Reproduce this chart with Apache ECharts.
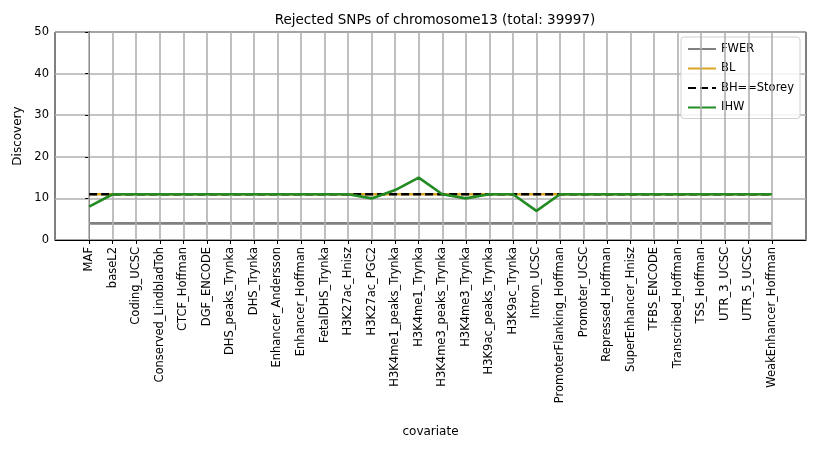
<!DOCTYPE html>
<html><head><meta charset="utf-8">
<script src="https://cdn.jsdelivr.net/npm/echarts@6/dist/echarts.min.js"></script>
<style>html,body{margin:0;padding:0;background:#fff}#c{width:814px;height:452px}</style>
</head><body><div id="c"></div>
<script>
const categories = ["MAF","baseL2","Coding_UCSC","Conserved_LindbladToh","CTCF_Hoffman","DGF_ENCODE","DHS_peaks_Trynka","DHS_Trynka","Enhancer_Andersson","Enhancer_Hoffman","FetalDHS_Trynka","H3K27ac_Hnisz","H3K27ac_PGC2","H3K4me1_peaks_Trynka","H3K4me1_Trynka","H3K4me3_peaks_Trynka","H3K4me3_Trynka","H3K9ac_peaks_Trynka","H3K9ac_Trynka","Intron_UCSC","PromoterFlanking_Hoffman","Promoter_UCSC","Repressed_Hoffman","SuperEnhancer_Hnisz","TFBS_ENCODE","Transcribed_Hoffman","TSS_Hoffman","UTR_3_UCSC","UTR_5_UCSC","WeakEnhancer_Hoffman"];
const fwer = [4,4,4,4,4,4,4,4,4,4,4,4,4,4,4,4,4,4,4,4,4,4,4,4,4,4,4,4,4,4];
const bl = [11,11,11,11,11,11,11,11,11,11,11,11,11,11,11,11,11,11,11,11,11,11,11,11,11,11,11,11,11,11];
const bhStorey = [11,11,11,11,11,11,11,11,11,11,11,11,11,11,11,11,11,11,11,11,11,11,11,11,11,11,11,11,11,11];
const ihw = [8,11,11,11,11,11,11,11,11,11,11,11,10,12,15,11,10,11,11,7,11,11,11,11,11,11,11,11,11,11];
const yTicks = [0,10,20,30,40,50];

const idx = categories.map((_, i) => i);
const pts = arr => arr.map((v, i) => [i, v]);
const font = 'DejaVu Sans';
const chart = echarts.init(document.getElementById('c'));
chart.setOption({
  animation: false,
  backgroundColor: '#fff',
  title: {text: 'Rejected SNPs of chromosome13 (total: 39997)', left: 430, top: 8, textAlign: 'center',
    textStyle: {fontFamily: font, fontSize: 13.5, fontWeight: 'normal', color: '#000'}},
  grid: {left: 55, right: 8, top: 32, bottom: 212, show: true, borderColor: '#000', borderWidth: 1, backgroundColor: 'transparent'},
  legend: {orient: 'vertical', right: 14, top: 37, itemWidth: 28, itemHeight: 10, itemGap: 7.5,
    backgroundColor: 'rgba(255,255,255,0.85)', borderColor: '#d0d0d0', borderWidth: 1, borderRadius: 3, padding: [6, 6, 5, 6],
    itemStyle: {opacity: 0},
    textStyle: {fontFamily: font, fontSize: 11.5, color: '#000'},
    data: ['FWER', 'BL', 'BH==Storey', 'IHW']},
  xAxis: {type: 'value', min: -1.45, max: 30.45,
    name: 'covariate', nameLocation: 'middle', nameGap: 186,
    nameTextStyle: {fontFamily: font, fontSize: 12, color: '#000'},
    axisLine: {show: true, lineStyle: {color: '#000', width: 1}},
    axisTick: {show: true, customValues: idx, length: 4, lineStyle: {color: '#000'}},
    axisLabel: {customValues: idx, rotate: 90, margin: 7, fontFamily: font, fontSize: 11.5, color: '#000',
      formatter: v => categories[Math.round(v)] || ''},
    splitLine: {show: false}},
  yAxis: {type: 'value', min: 0, max: 50, interval: 10,
    name: 'Discovery', nameLocation: 'middle', nameGap: 31,
    nameTextStyle: {fontFamily: font, fontSize: 12, color: '#000'},
    axisLine: {show: true, lineStyle: {color: '#000', width: 1}},
    axisTick: {show: true, length: 4, lineStyle: {color: '#000'}},
    axisLabel: {fontFamily: font, fontSize: 11.5, color: '#000', margin: 6,
      formatter: v => yTicks.includes(v) ? String(v) : ''},
    splitLine: {show: true, lineStyle: {color: '#b0b0b0', width: 1.6}}},
  series: [
    {name: 'grid', type: 'line', data: [], z: 1, silent: true,
      markLine: {silent: true, symbol: 'none', label: {show: false},
        lineStyle: {color: '#b0b0b0', width: 1.6, type: 'solid'},
        data: idx.map(i => ({xAxis: i}))}},
    {name: 'FWER', type: 'line', data: pts(fwer), symbol: 'none', z: 3,
      lineStyle: {color: '#808080', width: 2.6}, itemStyle: {color: '#808080'}},
    {name: 'BL', type: 'line', data: pts(bl), symbol: 'none', z: 4,
      lineStyle: {color: '#DAA520', width: 2.6}, itemStyle: {color: '#DAA520'}},
    {name: 'BH==Storey', type: 'line', data: pts(bhStorey), symbol: 'none', z: 5,
      lineStyle: {color: '#000', width: 2.6, type: [8, 4]}, itemStyle: {color: '#000'}},
    {name: 'IHW', type: 'line', data: pts(ihw), symbol: 'none', z: 6,
      lineStyle: {color: '#228B22', width: 2.6}, itemStyle: {color: '#228B22'}}
  ]
});
</script></body></html>
